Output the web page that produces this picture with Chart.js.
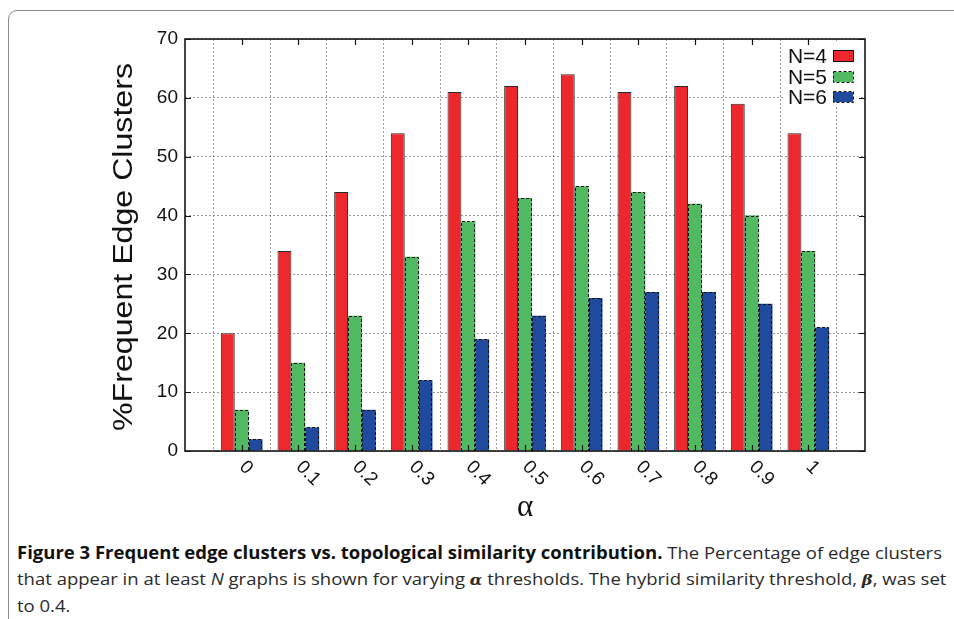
<!DOCTYPE html>
<html>
<head>
<meta charset="utf-8">
<script src="https://cdn.jsdelivr.net/npm/chart.js@4.4.1/dist/chart.umd.min.js"></script>
<style>
  html, body { margin: 0; padding: 0; background: #fff; overflow: hidden; width: 954px; height: 619px; }
  #frame {
    position: absolute; left: 8px; top: 10px; width: 1000px; height: 700px;
    border: 1.5px solid #8a8a8a; border-top-left-radius: 9px; box-sizing: border-box;
  }
  #chartBox { position: absolute; left: 0; top: 0; width: 954px; height: 525px; }
  #caption {
    position: absolute; left: 17px; top: 540px; width: 1200px;
    font-family: "Liberation Sans Narrow", "Open Sans", "Noto Sans", sans-serif;
    font-size: 17px; line-height: 25.5px; color: #2a2a2a;
  }
  #caption .line { display: inline-block; white-space: nowrap; transform-origin: 0 50%; }
  #caption b { color: #111; }
  .gk { font-family: "DejaVu Serif", "Liberation Serif", serif; font-style: italic; font-weight: bold; font-size: 15px; }
</style>
</head>
<body>
<div id="frame"></div>
<div id="chartBox"><canvas id="myChart" width="954" height="525"></canvas></div>
<div id="caption">
  <span class="line"><b>Figure 3 Frequent edge clusters vs. topological similarity contribution.</b> The Percentage of edge clusters</span><br>
  <span class="line">that appear in at least <i>N</i> graphs is shown for varying <span class="gk">α</span> thresholds. The hybrid similarity threshold, <span class="gk">β</span>, was set</span><br>
  <span class="line">to 0.4.</span>
</div>
<script>
const categories = ["0", "0.1", "0.2", "0.3", "0.4", "0.5", "0.6", "0.7", "0.8", "0.9", "1"];
const seriesN4 = [20, 34, 44, 54, 61, 62, 64, 61, 62, 59, 54];
const seriesN5 = [7, 15, 23, 33, 39, 43, 45, 44, 42, 40, 34];
const seriesN6 = [2, 4, 7, 12, 19, 23, 26, 27, 27, 25, 21];
const seriesNames = ["N=4", "N=5", "N=6"];
const yTicks = [0, 10, 20, 30, 40, 50, 60, 70];

const FONT = '"Liberation Sans", Arial, Helvetica, sans-serif';

// empty slot at each end so the axis runs half a step past 0 and 1
const pad = (arr) => [null, ...arr, null];
const labels = ["", ...categories, ""];

const data = {
  labels: labels,
  datasets: [
    {
      label: seriesNames[0],
      data: pad(seriesN4),
      backgroundColor: "#ec282d",
      borderColor: "#2a2a2a",
      borderWidth: 1,
      dashed: false,
    },
    {
      label: seriesNames[1],
      data: pad(seriesN5),
      backgroundColor: "#50b961",
      borderWidth: 0,
      dashed: true,
    },
    {
      label: seriesNames[2],
      data: pad(seriesN6),
      backgroundColor: "#1f4a9e",
      borderWidth: 0,
      dashed: true,
    },
  ],
};

// dashed outlines, frame, inward ticks, labels and key (gnuplot look)
const gnuplotLook = {
  id: "gnuplotLook",
  afterDatasetsDraw(chart) {
    const ctx = chart.ctx;
    chart.data.datasets.forEach((ds, i) => {
      if (!ds.dashed) return;
      const meta = chart.getDatasetMeta(i);
      ctx.save();
      ctx.setLineDash([3, 2]);
      ctx.strokeStyle = "#111";
      ctx.lineWidth = 1;
      meta.data.forEach((bar, j) => {
        if (ds.data[j] == null) return;
        const p = bar.getProps(["x", "y", "base", "width"], true);
        const l = Math.round(p.x - p.width / 2) + 0.5;
        const r = Math.round(p.x + p.width / 2) - 0.5;
        const t = Math.round(p.y) + 0.5;
        const b = Math.round(p.base);
        ctx.beginPath();
        ctx.moveTo(l, b);
        ctx.lineTo(l, t);
        ctx.lineTo(r, t);
        ctx.lineTo(r, b);
        ctx.stroke();
      });
      ctx.restore();
    });
  },
  afterDraw(chart) {
    const ctx = chart.ctx;
    const a = chart.chartArea;
    const xs = chart.scales.x;
    const ys = chart.scales.y;
    ctx.save();

    // key
    const keyX = 827, keyY = [56, 77, 97];
    ctx.fillStyle = "#fff";
    ctx.fillRect(784, 43, 76, 64);
    ctx.font = "21px " + FONT;
    ctx.textAlign = "right";
    ctx.textBaseline = "middle";
    chart.data.datasets.forEach((ds, i) => {
      ctx.fillStyle = "#111";
      ctx.fillText(ds.label, keyX, keyY[i] + 1);
      ctx.fillStyle = ds.backgroundColor;
      ctx.fillRect(833, keyY[i] - 5, 20, 10);
      ctx.strokeStyle = "#111";
      ctx.lineWidth = 1;
      ctx.setLineDash(ds.dashed ? [3, 2] : []);
      ctx.strokeRect(833.5, keyY[i] - 5.5, 20, 11);
      ctx.setLineDash([]);
    });

    // inward ticks
    ctx.strokeStyle = "#111";
    ctx.lineWidth = 1.2;
    ctx.beginPath();
    yTicks.forEach((v) => {
      const y = Math.round(ys.getPixelForValue(v)) + 0.5;
      ctx.moveTo(a.left, y); ctx.lineTo(a.left + 6, y);
      ctx.moveTo(a.right, y); ctx.lineTo(a.right - 6, y);
    });
    categories.forEach((c, i) => {
      const x = Math.round(xs.getPixelForTick(i + 1)) + 0.5;
      ctx.moveTo(x, a.bottom); ctx.lineTo(x, a.bottom - 6);
      ctx.moveTo(x, a.top); ctx.lineTo(x, a.top + 6);
    });
    ctx.stroke();

    // frame
    ctx.lineWidth = 1.6;
    ctx.strokeStyle = "#151515";
    ctx.strokeRect(a.left, a.top, a.right - a.left, a.bottom - a.top);

    // x tick labels, rotated clockwise
    ctx.fillStyle = "#111";
    ctx.font = "19px " + FONT;
    ctx.textAlign = "left";
    ctx.textBaseline = "middle";
    categories.forEach((c, i) => {
      const x = xs.getPixelForTick(i + 1);
      ctx.save();
      ctx.translate(x + 0.5, a.bottom + 13);
      ctx.rotate(Math.PI / 4);
      ctx.fillText(c, 0, 0);
      ctx.restore();
    });

    // x title
    ctx.font = "31px \"Liberation Serif\", \"DejaVu Serif\", serif";
    ctx.textAlign = "center";
    ctx.fillText("α", (a.left + a.right) / 2, 508);

    // y title
    const yTitle = "%Frequent Edge Clusters";
    ctx.font = "27px " + FONT;
    const w = ctx.measureText(yTitle).width;
    ctx.translate(125, (a.top + a.bottom) / 2 + 2);
    ctx.rotate(-Math.PI / 2);
    ctx.scale(368 / w, 1);
    ctx.textAlign = "center";
    ctx.fillText(yTitle, 0, 0);
    ctx.restore();
  },
};

const config = {
  type: "bar",
  data: data,
  options: {
    responsive: false,
    animation: false,
    events: [],
    layout: {
      padding: { left: 0, right: 89, top: 39, bottom: 0 },
    },
    datasets: {
      bar: {
        barPercentage: 1.0,
        categoryPercentage: 0.735,
        borderSkipped: "bottom",
      },
    },
    plugins: {
      legend: { display: false },
      title: { display: false },
      tooltip: { enabled: false },
    },
    scales: {
      x: {
        offset: false,
        grid: {
          color: "#9a9a9a",
          lineWidth: 1,
          drawTicks: false,
        },
        border: { display: false, dash: [2, 2] },
        ticks: { display: false },
        afterFit: (scale) => { scale.height = 525 - 451; },
      },
      y: {
        min: 0,
        max: 70,
        grid: {
          color: "#9a9a9a",
          lineWidth: 1,
          drawTicks: false,
        },
        border: { display: false, dash: [2, 2] },
        ticks: {
          stepSize: 10,
          padding: 7,
          color: "#111",
          font: { family: FONT, size: 19 },
        },
        afterFit: (scale) => { scale.width = 185; },
      },
    },
  },
  plugins: [gnuplotLook],
};

new Chart(document.getElementById("myChart"), config);

// squeeze the caption lines to the reference width
function fitCaption() {
  const lines = document.querySelectorAll("#caption .line");
  const w0 = lines[0].getBoundingClientRect().width;
  const k = 925 / w0;
  lines.forEach((el) => { el.style.transform = "scaleX(" + k + ")"; });
}
if (document.fonts && document.fonts.ready) {
  document.fonts.ready.then(fitCaption);
} else {
  fitCaption();
}
</script>
</body>
</html>
